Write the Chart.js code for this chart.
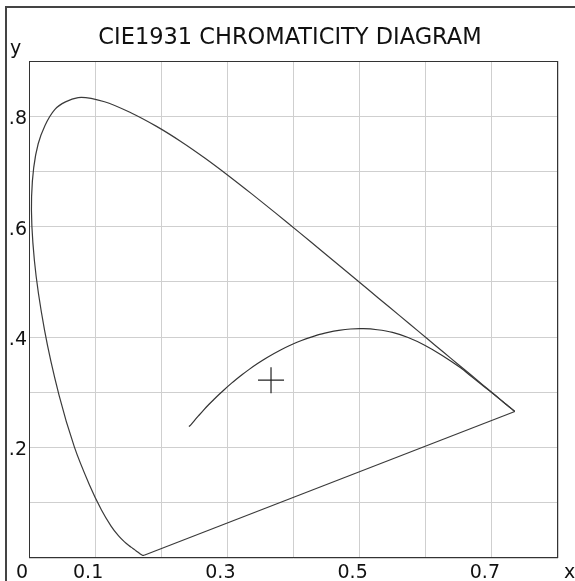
<!DOCTYPE html>
<html>
<head>
  <meta charset="UTF-8">
  <title>CIE1931 Chromaticity Diagram</title>
  <script src="https://cdn.jsdelivr.net/npm/chart.js"></script>
  <style>
    body { margin: 0; background: white; overflow: hidden; }
    .frame {
      position: absolute; left: 5px; top: 6px; width: 700px; height: 700px;
      border-left: 2px solid #444; border-top: 2px solid #444;
    }
    #chart { position: absolute; left: 0; top: 0; }
  </style>
</head>
<body>
  <div class="frame"></div>
  <canvas id="chart" width="575" height="581"></canvas>
  <script>
    // spectral locus, 380..700 nm in 5 nm steps (x, y)
    const locusX = [0.1741, 0.1740, 0.1738, 0.1736, 0.1733, 0.1730, 0.1726, 0.1721, 0.1714, 0.1703,
      0.1689, 0.1669, 0.1644, 0.1611, 0.1566, 0.1510, 0.1440, 0.1355, 0.1241, 0.1096,
      0.0913, 0.0687, 0.0454, 0.0235, 0.0082, 0.0039, 0.0139, 0.0389, 0.0743, 0.1142,
      0.1547, 0.1929, 0.2296, 0.2658, 0.3016, 0.3373, 0.3731, 0.4087, 0.4441, 0.4788,
      0.5125, 0.5448, 0.5752, 0.6029, 0.6270, 0.6482, 0.6658, 0.6801, 0.6915, 0.7006,
      0.7079, 0.7140, 0.7190, 0.7230, 0.7260, 0.7283, 0.7300, 0.7311, 0.7320, 0.7347];
    const locusY = [0.0050, 0.0050, 0.0049, 0.0049, 0.0048, 0.0048, 0.0048, 0.0048, 0.0051, 0.0058,
      0.0069, 0.0086, 0.0109, 0.0138, 0.0177, 0.0227, 0.0297, 0.0399, 0.0578, 0.0868,
      0.1327, 0.2007, 0.2950, 0.4127, 0.5384, 0.6548, 0.7502, 0.8120, 0.8338, 0.8262,
      0.8059, 0.7816, 0.7543, 0.7243, 0.6923, 0.6589, 0.6245, 0.5896, 0.5547, 0.5202,
      0.4866, 0.4544, 0.4242, 0.3965, 0.3725, 0.3514, 0.3340, 0.3197, 0.3083, 0.2993,
      0.2920, 0.2859, 0.2809, 0.2770, 0.2740, 0.2717, 0.2700, 0.2689, 0.2680, 0.2653];

    // line of purples
    const purpleX = [0.1741, 0.7347];
    const purpleY = [0.0050, 0.2653];

    // black body locus, low to high temperature
    const planckX = [0.7347, 0.7300, 0.7188, 0.7057, 0.6890, 0.6702, 0.6527, 0.6249, 0.5984, 0.5733,
      0.5497, 0.5267, 0.5056, 0.4862, 0.4685, 0.4524, 0.4369, 0.4053, 0.3805, 0.3608,
      0.3451, 0.3325, 0.3221, 0.3135, 0.3064, 0.2952, 0.2869, 0.2807, 0.2719, 0.2637,
      0.2565, 0.2501, 0.2447, 0.2420];
    const planckY = [0.2653, 0.2700, 0.2808, 0.2937, 0.3098, 0.3275, 0.3444, 0.3669, 0.3854, 0.3993,
      0.4086, 0.4133, 0.4152, 0.4147, 0.4123, 0.4087, 0.4041, 0.3907, 0.3768, 0.3636,
      0.3516, 0.3411, 0.3318, 0.3237, 0.3166, 0.3048, 0.2956, 0.2884, 0.2779, 0.2674,
      0.2577, 0.2489, 0.2412, 0.2380];

    // marked colour point
    const markX = [0.366];
    const markY = [0.322];

    const xTickLabels = ['0', '0.1', '', '0.3', '', '0.5', '', '0.7', ''];
    const yTickLabels = ['', '', '.2', '', '.4', '', '.6', '', '.8', ''];
    const titleText = 'CIE1931 CHROMATICITY DIAGRAM';

    const toPoints = (xs, ys) => xs.map((x, i) => ({ x: x, y: ys[i] }));
    const FONT = "'DejaVu Sans', Verdana, sans-serif";

    const framePlugin = {
      id: 'frame',
      afterDraw(chart) {
        const ctx = chart.ctx;
        const a = chart.chartArea;
        ctx.save();
        ctx.strokeStyle = '#333';
        ctx.lineWidth = 1;
        ctx.strokeRect(Math.round(a.left) + 0.5, Math.round(a.top) + 0.5,
          Math.round(a.right - a.left) - 1, Math.round(a.bottom - a.top) - 1);
        ctx.fillStyle = '#111';
        ctx.font = '19px ' + FONT;
        ctx.textBaseline = 'alphabetic';
        ctx.textAlign = 'left';
        ctx.fillText('y', 10, 54);
        ctx.fillText('x', 564, 578);
        ctx.font = '22.5px ' + FONT;
        ctx.textAlign = 'center';
        ctx.fillText(titleText, 290, 44);
        ctx.restore();
      }
    };

    new Chart(document.getElementById('chart').getContext('2d'), {
      type: 'scatter',
      data: {
        datasets: [
          {
            label: 'spectral locus',
            data: toPoints(locusX, locusY),
            showLine: true,
            borderColor: '#3a3a3a',
            borderWidth: 1.2,
            pointRadius: 0,
            tension: 0.3
          },
          {
            label: 'purple line',
            data: toPoints(purpleX, purpleY),
            showLine: true,
            borderColor: '#3a3a3a',
            borderWidth: 1.2,
            pointRadius: 0
          },
          {
            label: 'black body',
            data: toPoints(planckX, planckY),
            showLine: true,
            borderColor: '#333',
            borderWidth: 1.2,
            pointRadius: 0,
            tension: 0.3
          },
          {
            label: 'point',
            data: toPoints(markX, markY),
            pointStyle: 'cross',
            pointRadius: 13,
            borderColor: '#222',
            borderWidth: 1.2
          }
        ]
      },
      options: {
        responsive: false,
        animation: false,
        devicePixelRatio: 1,
        layout: { padding: { left: 0, right: 17, top: 61, bottom: 0 } },
        plugins: {
          legend: { display: false },
          tooltip: { enabled: false },
          title: { display: false }
        },
        scales: {
          x: {
            type: 'linear',
            min: 0,
            max: 0.8,
            afterFit(scale) { scale.height = 23; },
            grid: { color: '#cfcfcf', drawTicks: false },
            border: { display: false },
            ticks: {
              stepSize: 0.1,
              autoSkip: false,
              maxRotation: 0,
              padding: 4,
              labelOffset: -7,
              color: '#111',
              font: { family: FONT, size: 19 },
              callback: (v, i) => xTickLabels[i]
            }
          },
          y: {
            type: 'linear',
            min: 0,
            max: 0.9,
            afterFit(scale) { scale.width = 29; },
            grid: { color: '#cfcfcf', drawTicks: false },
            border: { display: false },
            ticks: {
              stepSize: 0.1,
              autoSkip: false,
              padding: 2,
              labelOffset: 3,
              color: '#111',
              font: { family: FONT, size: 19 },
              callback: (v, i) => yTickLabels[i]
            }
          }
        }
      },
      plugins: [framePlugin]
    });
  </script>
</body>
</html>
